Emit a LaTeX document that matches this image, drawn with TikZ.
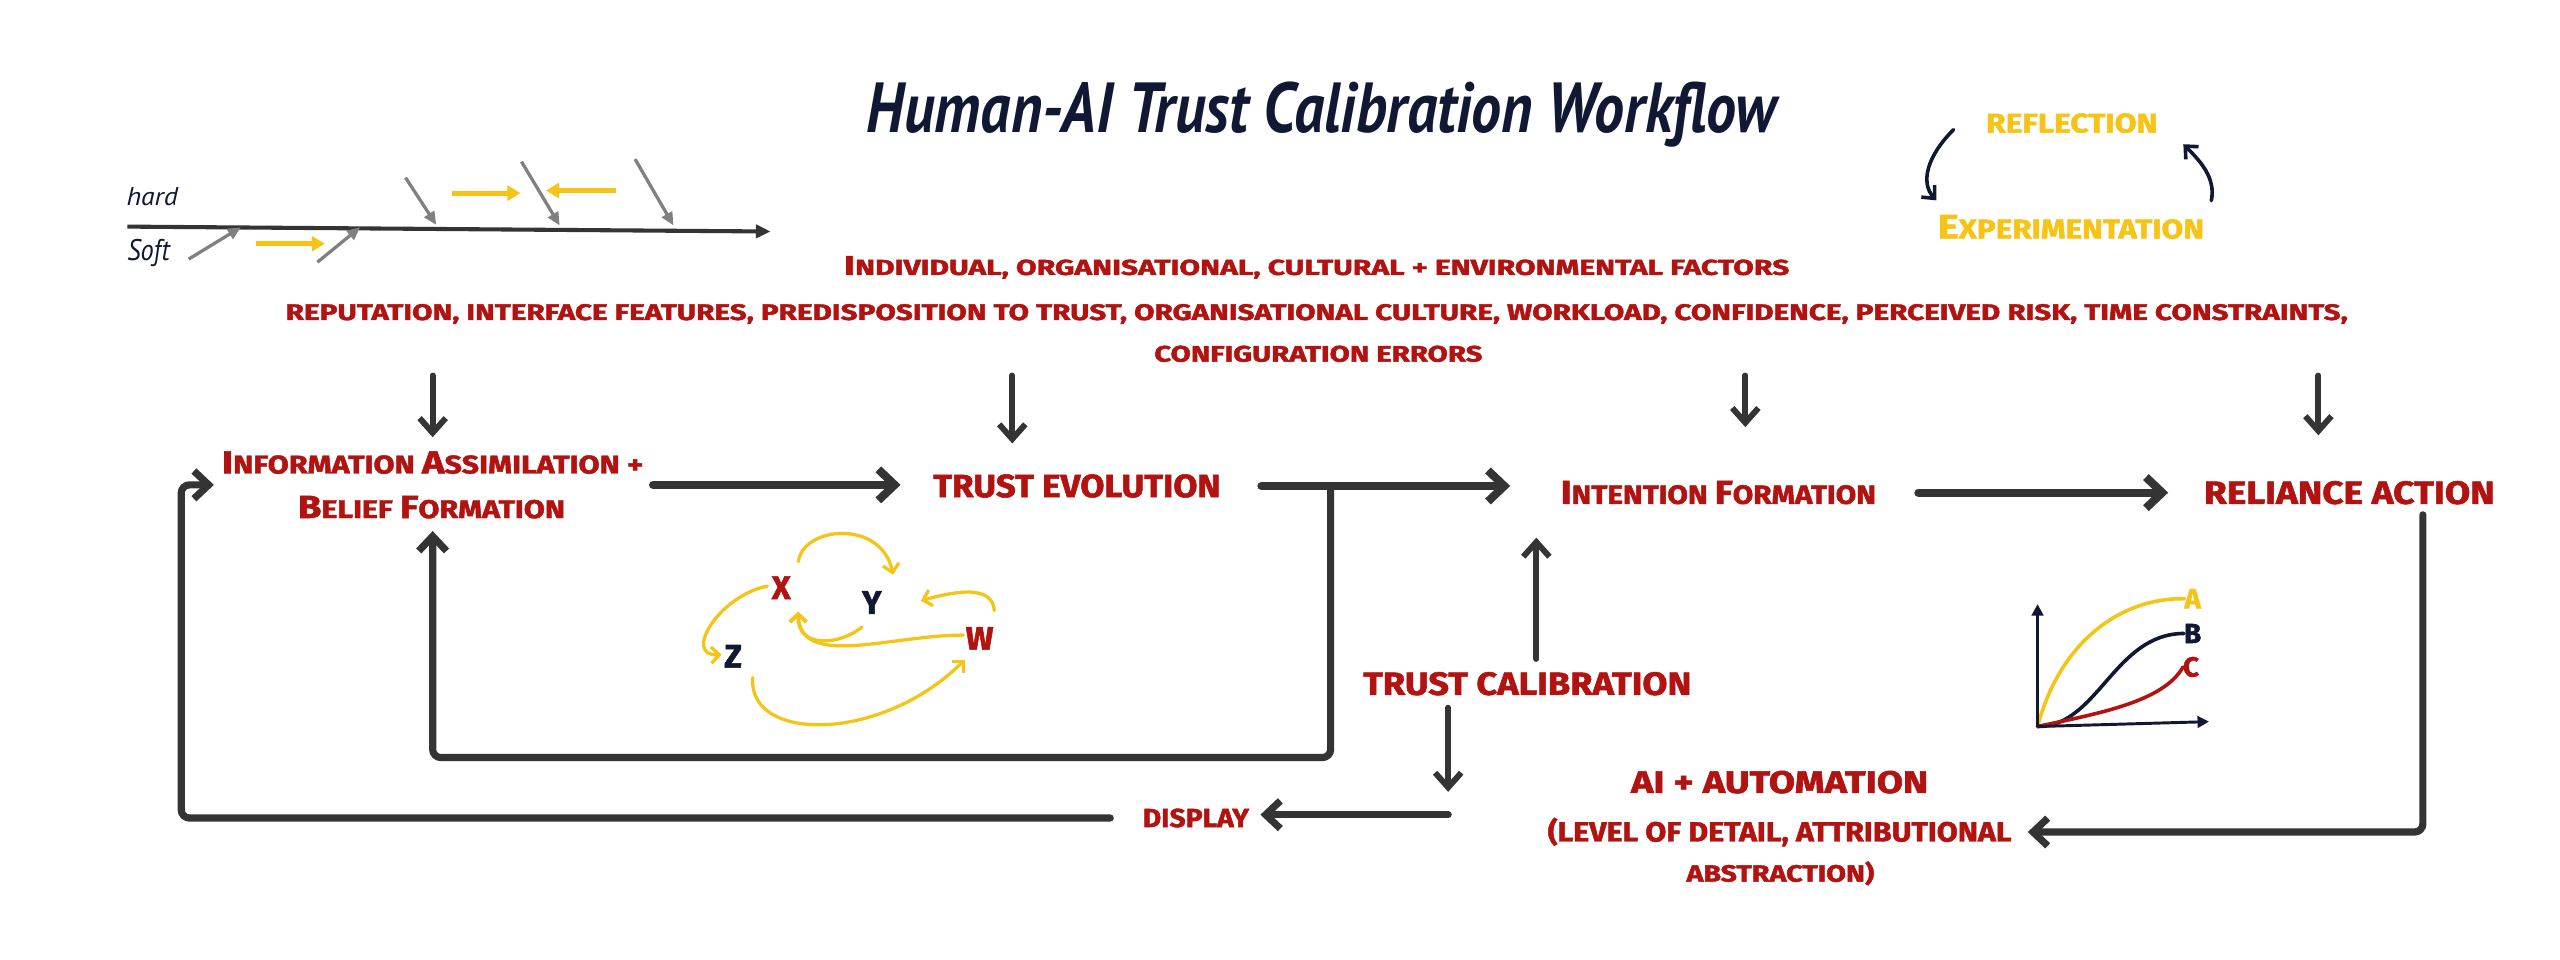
\documentclass[tikz,border=0pt]{standalone}
\usepackage{fontspec}
\setmainfont{Fira Sans}
\newfontfamily\hand{PT Sans}
\newfontfamily\mk{Fira Sans}[BoldFeatures={FakeBold=1.6}]
\usetikzlibrary{arrows.meta,fit,calc}
\definecolor{cred}{RGB}{178,18,16}
\definecolor{cgold}{RGB}{246,196,22}
\definecolor{cnavy}{RGB}{16,24,52}
\definecolor{cdark}{RGB}{52,52,52}
\definecolor{cgray}{RGB}{128,128,128}
\newcommand\fitt[3]{\resizebox{#1pt}{#2pt}{#3}}
\newcommand\bc[1]{{\fontsize{20}{20}\selectfont #1}}
\tikzset{
  txt/.style={inner sep=0pt, outer sep=0pt, anchor=base, font=\mk\bfseries\fontsize{16}{16}\selectfont},
  rtxt/.style={txt, text=cred},
  gtxt/.style={txt, text=cgold},
  ltr/.style={inner sep=0pt, outer sep=0pt, font=\mk\bfseries\fontsize{20}{20}\selectfont},
  hw/.style={inner sep=0pt, outer sep=0pt, anchor=base west, text=cnavy, font=\hand\itshape\fontsize{15}{15}\selectfont},
  mainarr/.style={draw=cdark, line width=5pt, line cap=round, line join=round, -{Straight Barb[length=10pt,width=19pt]}},
  dn/.style={draw=cdark, line width=3.6pt, line cap=round, line join=round, -{Straight Barb[length=9pt,width=16pt]}},
  lp/.style={draw=cdark, line width=4.4pt, line cap=round, line join=round, rounded corners=5pt, -{Straight Barb[length=9pt,width=17pt]}},
  ya/.style={draw=cgold, line width=2pt, line cap=round, -{Straight Barb[length=5pt,width=10pt]}},
  cyc/.style={draw=cnavy, line width=2.2pt, line cap=round, -{Straight Barb[length=6pt,width=11pt]}},
  fishg/.style={draw=cgray, line width=2pt, -{Triangle[length=8pt,width=7pt]}},
  fishy/.style={draw=cgold, line width=3pt, -{Triangle[length=8pt,width=9pt]}},
  fishm/.style={draw=cdark, line width=2.5pt, -{Triangle[length=9pt,width=8pt]}},
  axisarr/.style={draw=cnavy, line width=1.8pt, -{Triangle[length=7pt,width=7pt]}},
  crv/.style={line width=2.2pt, line cap=round}
}
\begin{document}
\begin{tikzpicture}[x=1pt,y=-1pt]
\fill[white] (0,0) rectangle (1568,588);
\useasboundingbox (0,0) rectangle (1568,588);

% title
\node[anchor=base, inner sep=0pt, text=cnavy, font=\hand\bfseries\itshape\fontsize{32}{32}\selectfont] (title) at (809.5,81) {\fitt{557}{31}{Human-AI Trust Calibration Workflow}};

% fishbone sketch
\node[hw] (hard) at (77.5,126) {\fitt{31.5}{11}{hard}};
\node[hw] (soft) at (78,159.6) {\fitt{26}{13}{Soft}};
\draw[fishm] (78,138.8) -- (472,141.8);
\draw[fishg] (115.6,158.7) -- (147.5,139.2);
\draw[fishg] (194.4,160.6) -- (220.6,139.2);
\draw[fishg] (248.4,108.8) -- (267.2,137.7);
\draw[fishg] (319.4,99) -- (342.8,138.1);
\draw[fishg] (389,97.5) -- (412.5,138.1);
\draw[fishy] (157,149.3) -- (199,149.3);
\draw[fishy] (276.9,118.3) -- (318.8,118.3);
\draw[fishy] (377,116.7) -- (334.4,116.7);

% reflection / experimentation
\node[gtxt] (refl) at (1269,81.2) {\fitt{105}{11.8}{REFLECTION}};
\node[gtxt] (expe) at (1268.5,146) {\fitt{163}{14.3}{\bc{E}XPERIMENTATION}};
\draw[cyc] ([shift={(-20,4)}]refl.west) .. controls +(-16,16) and +(-10,-11) .. ([shift={(-1,-9)}]expe.north west);
\draw[cyc] ([shift={(4.4,-8.8)}]expe.north east) .. controls +(3,-14) and +(10,10) .. ([shift={(15.8,12.9)}]refl.east);

% factors
\node[rtxt] (f1) at (806.5,168.4) {\fitt{579}{11.5}{\bc{I}NDIVIDUAL, ORGANISATIONAL, CULTURAL + ENVIRONMENTAL FACTORS}};
\node[rtxt] (f2) at (806.5,196) {\fitt{1263}{9.8}{REPUTATION, INTERFACE FEATURES, PREDISPOSITION TO TRUST, ORGANISATIONAL CULTURE, WORKLOAD, CONFIDENCE, PERCEIVED RISK, TIME CONSTRAINTS,}};
\node[rtxt] (f3) at (807.5,221.5) {\fitt{201}{9.8}{CONFIGURATION ERRORS}};

% main nodes
\node[rtxt] (info1) at (265,290) {\fitt{258}{13.6}{\bc{I}NFORMATION \bc{A}SSIMILATION +}};
\node[rtxt] (info2) at (264.3,317.3) {\fitt{163.5}{13.6}{\bc{B}ELIEF \bc{F}ORMATION}};
\node[fit=(info1)(info2), inner sep=0pt, outer sep=0pt] (info) {};
\node[rtxt] (tev) at (659.6,304.5) {\fitt{176}{14}{TRUST EVOLUTION}};
\node[rtxt] (intent) at (1052.5,308.6) {\fitt{193}{14}{\bc{I}NTENTION \bc{F}ORMATION}};
\node[rtxt] (rel) at (1439,308.6) {\fitt{178}{14}{RELIANCE ACTION}};
\node[rtxt] (tcal) at (935.5,425.6) {\fitt{201}{14}{TRUST CALIBRATION}};
\node[rtxt] (ai1) at (1090,485.7) {\fitt{182}{13.6}{AI + AUTOMATION}};
\node[rtxt] (ai2) at (1090,515.4) {\fitt{284}{14.6}{(LEVEL OF DETAIL, ATTRIBUTIONAL}};
\node[rtxt] (ai3) at (1090.5,540) {\fitt{115}{12.4}{ABSTRACTION)}};
\node[rtxt] (disp) at (732.5,506.6) {\fitt{65}{11.4}{DISPLAY}};

% down arrows from factors
\coordinate (d1) at (265,230);
\coordinate (d2) at (620,230);
\coordinate (d3) at (1069,230);
\coordinate (d4) at (1420,230);
\draw[dn, shorten >=8.6pt] (d1) -- (d1 |- info.north);
\draw[dn, shorten >=18.9pt] (d2) -- (d2 |- tev.north);
\draw[dn, shorten >=33pt] (d3) -- (d3 |- intent.north);
\draw[dn, shorten >=28pt] (d4) -- (d4 |- rel.north);

% horizontal flow
\draw[mainarr, shorten <=6pt, shorten >=20pt] (info.east) -- (info.east -| tev.west);
\draw[mainarr, shorten <=25pt, shorten >=31pt] (tev.east) -- (tev.east -| intent.west);
\draw[mainarr, shorten <=26pt, shorten >=22pt] (intent.east) -- (intent.east -| rel.west);

% inner loop
\coordinate (j1) at (815,0 |- tev.east);
\draw[lp, shorten >=7.7pt] (j1) -- (815,464) -| (info.south);

% outer loop through display
\draw[lp] ([xshift=-20pt]disp.west) -| (111,0 |- info.west) -- ([xshift=-5pt]info.west);

% trust calibration
\coordinate (tcup) at ([xshift=5.5pt]tcal.north);
\draw[dn, shorten <=8pt, shorten >=20.4pt] (tcup) -- (tcup |- intent.south);
\coordinate (jc) at (887,499);
\draw[dn, shorten <=7.5pt, shorten >=14pt] (jc |- tcal.south) -- (jc);
\draw[lp, shorten >=7pt] (jc) -- (jc -| disp.east);

% reliance -> AI
\draw[lp, shorten <=6.4pt, shorten >=10pt] (1484,0 |- rel.south) |- (ai2.east);

% x y z w
\node[ltr, text=cred] (X) at (478.5,360) {X};
\node[ltr, text=cnavy] (Y) at (534,369) {Y};
\node[ltr, text=cred] (W) at (600,391) {W};
\node[ltr, text=cnavy] (Z) at (449,402) {Z};
\draw[ya] ([shift={(10.5,-16)}]X.center) .. controls +(3,-22) and +(-7,-34) .. ([shift={(13,-17)}]Y.center);
\draw[ya] ([shift={(-8.5,-1)}]X.center) .. controls +(-30,6) and +(-24,1) .. ([shift={(-7,-1)}]Z.center);
\draw[ya] ([shift={(-6,15)}]Y.center) .. controls +(-13,11) and +(-1,23.4) .. ([shift={(10.4,14.6)}]X.center);
\draw[ya] ([shift={(-10,-2)}]W.center) .. controls +(-45,0) and +(1,35.4) .. ([shift={(10.4,14.6)}]X.center);
\draw[ya] ([shift={(9,-17)}]W.center) .. controls +(-1,-16) and +(21,-6) .. ([shift={(30,-1)}]Y.center);
\draw[ya] ([shift={(12,13)}]Z.center) .. controls +(-3,40) and +(-51,51) .. ([shift={(-9,13)}]W.center);

% A B C chart
\coordinate (O) at (1248,445);
\coordinate (ytip) at (1248,370);
\coordinate (xtip) at (1353,442);
\node[ltr, text=cgold, font=\mk\bfseries\fontsize{17}{17}\selectfont] (A) at (1343,366.7) {A};
\node[ltr, text=cnavy, font=\mk\bfseries\fontsize{17}{17}\selectfont] (B) at (1343,388) {B};
\node[ltr, text=cred, font=\mk\bfseries\fontsize{17}{17}\selectfont] (C) at (1342,408.5) {C};
\draw[crv, draw=cgold] (O) .. controls (1262,392) and (1300,366) .. (A.west);
\draw[crv, draw=cnavy] (O) .. controls (1285,445) and (1295,388) .. (B.west);
\draw[crv, draw=cred] (O) .. controls (1285,437) and (1325,430) .. (C.west);
\draw[axisarr] (O) -- (ytip);
\draw[axisarr] (O) -- (xtip);
\end{tikzpicture}
\end{document}
